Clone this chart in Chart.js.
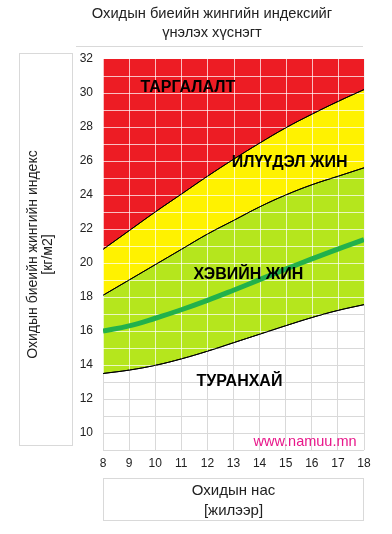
<!DOCTYPE html>
<html>
<head>
<meta charset="utf-8">
<script src="https://cdn.jsdelivr.net/npm/chart.js@4/dist/chart.umd.min.js"></script>
<style>
html,body{margin:0;padding:0;background:#fff;overflow:hidden;}
#wrap{position:relative;width:392px;height:534px;}
#title{position:absolute;left:32px;width:360px;top:4px;text-align:center;font-family:"Liberation Sans",Arial,sans-serif;font-size:14.7px;line-height:19px;color:#222;}
canvas{position:absolute;left:0;top:0;}
</style>
</head>
<body>
<div id="wrap">
<canvas id="c" width="392" height="534"></canvas>
<div id="title">Охидын биеийн жингийн индексийг<br>үнэлэх хүснэгт</div>
</div>
<script>
// ---- data ----
const ages = [8, 9, 10, 11, 12, 13, 14, 15, 16, 17, 18];
const obeseLine      = [20.8, 21.9, 23.0, 24.05, 25.1, 26.1, 27.05, 27.95, 28.75, 29.5, 30.2]; // red / yellow border
const overweightLine = [18.1, 19.0, 19.9, 20.8, 21.7, 22.5, 23.3, 24.0, 24.6, 25.1, 25.6];      // yellow / green border
const medianLine     = [16.0, 16.3, 16.75, 17.25, 17.8, 18.4, 19.02, 19.64, 20.24, 20.82, 21.37]; // green thick line
const thinLine       = [13.5, 13.7, 13.98, 14.36, 14.81, 15.31, 15.81, 16.31, 16.79, 17.21, 17.55]; // green / white border
const xTickLabels = [8, 9, 10, 11, 12, 13, 14, 15, 16, 17, 18];
const yTickLabels = [10, 12, 14, 16, 18, 20, 22, 24, 26, 28, 30, 32];
const zoneNames = ['ТАРГАЛАЛТ', 'ИЛҮҮДЭЛ ЖИН', 'ХЭВИЙН ЖИН', 'ТУРАНХАЙ'];
const zoneAges  = [11.25, 15.15, 13.57, 13.23];
const zoneBmi   = [30.3, 25.9, 19.3, 13.0];
const siteText = 'www.namuu.mn';

const FAMILY = '"Liberation Sans", Arial, sans-serif';
const pts = arr => ages.map((a, i) => ({x: a, y: arr[i]}));

function restroke(ctx, meta) {
  const d = meta.data;
  const o = meta.dataset.options;
  if (!d || !d.length || !isFinite(d[0].x)) return;
  ctx.beginPath();
  ctx.moveTo(d[0].x, d[0].y);
  for (let i = 1; i < d.length; i++) {
    const p = d[i - 1], c = d[i];
    if (isFinite(p.cp2x) && isFinite(c.cp1x)) ctx.bezierCurveTo(p.cp2x, p.cp2y, c.cp1x, c.cp1y, c.x, c.y);
    else ctx.lineTo(c.x, c.y);
  }
  ctx.strokeStyle = o.borderColor;
  ctx.lineWidth = o.borderWidth;
  ctx.stroke();
}

// age (on the lowest border) where that border reaches the value v; null when below its start
function crossAge(v) {
  if (v <= thinLine[0]) return null;
  for (let i = 0; i < thinLine.length - 1; i++) {
    if (v >= thinLine[i] && v <= thinLine[i + 1]) {
      return ages[i] + (ages[i + 1] - ages[i]) * (v - thinLine[i]) / (thinLine[i + 1] - thinLine[i]);
    }
  }
  return ages[ages.length - 1];
}

const overlay = {
  id: 'overlay',
  afterDraw(chart) {
    const {ctx, chartArea: a, scales: {x, y}} = chart;
    // light grid over the coloured zones (1px rectangles)
    ctx.save();
    ctx.globalAlpha = 1;
    ctx.fillStyle = 'rgba(255,255,255,0.72)';
    xTickLabels.forEach(v => {
      const col = Math.round(x.getPixelForValue(v));
      const i = ages.indexOf(v);
      const yb = i >= 0 ? y.getPixelForValue(thinLine[i]) : a.bottom;
      ctx.fillRect(col, a.top, 1, Math.max(0, yb - a.top));
    });
    for (let v = 10; v <= 31; v++) {
      const row = Math.round(y.getPixelForValue(v));
      const ag = crossAge(v);
      if (ag === null) continue;
      const xe = x.getPixelForValue(ag);
      ctx.fillRect(a.left, row, Math.max(0, xe - a.left), 1);
    }
    ctx.restore();
    // curves on top of that grid
    ctx.save();
    ctx.beginPath();
    ctx.rect(a.left, a.top, a.right - a.left, a.bottom - a.top);
    ctx.clip();
    [3, 2, 1, 0].forEach(i => restroke(ctx, chart.getDatasetMeta(i)));
    ctx.restore();
    // zone names
    ctx.save();
    ctx.fillStyle = '#000';
    ctx.font = 'bold 16px ' + FAMILY;
    ctx.textAlign = 'center';
    ctx.textBaseline = 'middle';
    zoneNames.forEach((n, i) => ctx.fillText(n, x.getPixelForValue(zoneAges[i]), y.getPixelForValue(zoneBmi[i])));
    ctx.fillStyle = '#E8178A';
    ctx.font = '14.5px ' + FAMILY;
    ctx.fillText(siteText, x.getPixelForValue(15.74), y.getPixelForValue(9.45));
    ctx.restore();
    // frames round the titles
    ctx.save();
    ctx.strokeStyle = '#d9d9d9';
    ctx.lineWidth = 1;
    ctx.strokeRect(19.5, 53.5, 53, 392);
    ctx.strokeRect(103.5, 478.5, 260, 42);
    ctx.beginPath();
    ctx.moveTo(76, 46.5); ctx.lineTo(363, 46.5);
    ctx.stroke();
    ctx.restore();
  }
};

new Chart(document.getElementById('c'), {
  type: 'line',
  data: {
    datasets: [
      {label: 'Таргалалт', data: pts(obeseLine), borderColor: '#000', borderWidth: 1, backgroundColor: '#ED1C24', fill: 'end', pointRadius: 0, tension: 0.4},
      {label: 'Илүүдэл жин', data: pts(overweightLine), borderColor: '#000', borderWidth: 1, backgroundColor: '#FFF200', fill: 0, pointRadius: 0, tension: 0.4},
      {label: 'Хэвийн жин', data: pts(thinLine), borderColor: '#000', borderWidth: 1, backgroundColor: '#B5E61D', fill: 1, pointRadius: 0, tension: 0.4},
      {label: 'Дундаж', data: pts(medianLine), borderColor: '#22B14C', borderWidth: 5, fill: false, pointRadius: 0, tension: 0.4}
    ]
  },
  options: {
    responsive: false,
    animation: false,
    layout: {padding: {left: 0, right: 28, top: 59, bottom: 0}},
    plugins: {
      legend: {display: false},
      tooltip: {enabled: false}
    },
    scales: {
      x: {
        type: 'linear', min: 8, max: 18,
        afterFit: s => { s.height = 84; },
        afterBuildTicks: s => { s.ticks = xTickLabels.map(v => ({value: v})); },
        ticks: {autoSkip: false, maxRotation: 0, padding: 6, color: '#222', font: {size: 12, family: FAMILY}},
        grid: {color: '#d9d9d9', drawTicks: false},
        border: {display: false},
        title: {display: true, text: ['Охидын нас', '[жилээр]'], color: '#222', font: {size: 15, family: FAMILY, lineHeight: 20 / 15}, padding: {top: 0, bottom: 13}}
      },
      y: {
        type: 'linear', min: 9, max: 32,
        afterFit: s => { s.width = 103; },
        ticks: {stepSize: 1, autoSkip: false, padding: 10, color: '#222', font: {size: 12, family: FAMILY},
          callback: v => yTickLabels.includes(v) ? String(v) : ''},
        grid: {color: '#d9d9d9', drawTicks: false},
        border: {display: false},
        title: {display: true, text: ['Охидын биеийн жингийн индекс', '[кг/м2]'], color: '#222', font: {size: 14, family: FAMILY, lineHeight: 15 / 14}, padding: {top: 25.5, bottom: 0}}
      }
    }
  },
  plugins: [overlay]
});
</script>
</body>
</html>
